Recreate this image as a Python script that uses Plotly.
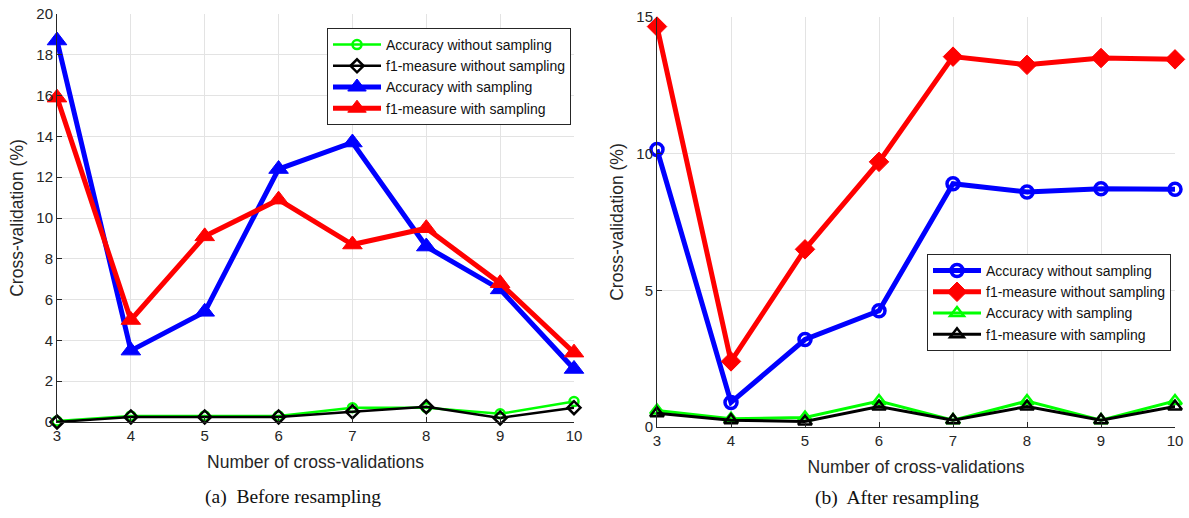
import plotly.graph_objects as go

folds = [3, 4, 5, 6, 7, 8, 9, 10]

# (a) Before resampling
a_acc_without = [0.05, 0.3, 0.3, 0.3, 0.7, 0.7, 0.4, 1.0]
a_f1_without = [0.0, 0.25, 0.25, 0.25, 0.5, 0.75, 0.2, 0.7]
a_acc_with = [18.7, 3.5, 5.4, 12.4, 13.7, 8.6, 6.5, 2.6]
a_f1_with = [15.9, 5.0, 9.1, 10.9, 8.7, 9.5, 6.8, 3.4]

# (b) After resampling
b_acc_without = [10.15, 0.9, 3.2, 4.25, 8.9, 8.6, 8.72, 8.7]
b_f1_without = [14.65, 2.4, 6.5, 9.7, 13.55, 13.25, 13.5, 13.45]
b_acc_with = [0.6, 0.3, 0.35, 0.95, 0.25, 0.95, 0.25, 0.95]
b_f1_with = [0.5, 0.25, 0.2, 0.75, 0.25, 0.75, 0.25, 0.75]

names = ["Accuracy without sampling", "f1-measure without sampling",
         "Accuracy with sampling", "f1-measure with sampling"]

W, H = 1189, 518
FONT = "Liberation Sans, Arial, sans-serif"
SERIF = "Liberation Serif, Times New Roman, serif"
TXT = "#262626"

fig = go.Figure()

def add(x, y, name, color, symbol, lw, ms, mlw, xa, ya, legend):
    fig.add_trace(go.Scatter(
        x=x, y=y, name=name, mode="lines+markers", xaxis=xa, yaxis=ya,
        legend=legend, cliponaxis=False,
        line=dict(color=color, width=lw),
        marker=dict(symbol=symbol, size=ms, color=color,
                    line=dict(color=color, width=mlw)),
    ))

# left panel
add(folds, a_acc_without, names[0], "#00ff00", "circle-open", 2.5, 9, 2.5, "x", "y", "legend")
add(folds, a_f1_without, names[1], "#000000", "diamond-open", 2.5, 10, 2.5, "x", "y", "legend")
add(folds, a_acc_with, names[2], "#0000ff", "triangle-up", 5, 17, 1, "x", "y", "legend")
add(folds, a_f1_with, names[3], "#ff0000", "triangle-up", 5, 17, 1, "x", "y", "legend")

# right panel
add(folds, b_acc_without, names[0], "#0000ff", "circle-open", 5, 12, 3.5, "x2", "y2", "legend2")
add(folds, b_f1_without, names[1], "#ff0000", "diamond", 5, 15, 1, "x2", "y2", "legend2")
add(folds, b_acc_with, names[2], "#00ff00", "triangle-up-open", 3, 12, 2.5, "x2", "y2", "legend2")
add(folds, b_f1_with, names[3], "#000000", "triangle-up-open", 3, 12, 2.5, "x2", "y2", "legend2")

def xd(px0, px1):
    return [px0 / W, px1 / W]

def yd(top, bottom):
    return [1 - bottom / H, 1 - top / H]

axis_common = dict(
    showgrid=True, gridcolor="#e3e3e3", gridwidth=1,
    showline=True, linecolor="#262626", linewidth=1, mirror=False,
    ticks="inside", ticklen=5, tickcolor="#262626",
    tickfont=dict(family=FONT, size=15, color=TXT),
    zeroline=False, automargin=False,
)
xtitle = dict(text="Number of cross-validations", font=dict(size=17.5, color=TXT), standoff=12)
ytitle = dict(text="Cross-validation (%)", font=dict(size=17.5, color=TXT), standoff=8)

legend_common = dict(xanchor="left", yanchor="top",
                     bgcolor="white", bordercolor="#262626", borderwidth=1,
                     font=dict(family=FONT, size=14, color="#111111"),
                     itemwidth=48, tracegroupgap=0)

fig.update_layout(
    width=W, height=H,
    margin=dict(l=0, r=0, t=0, b=0),
    paper_bgcolor="white", plot_bgcolor="white",
    font=dict(family=FONT, color=TXT),
    xaxis=dict(domain=xd(57, 574), range=[3, 10], tickvals=folds, anchor="y",
               title=xtitle, **axis_common),
    yaxis=dict(domain=yd(14, 422), range=[0, 20], dtick=2, anchor="x",
               title=ytitle, **axis_common),
    xaxis2=dict(domain=xd(657, 1175), range=[3, 10], tickvals=folds, anchor="y2",
                title=xtitle, **axis_common),
    yaxis2=dict(domain=yd(17, 427), range=[0, 15], dtick=5, anchor="x2",
                title=ytitle, **axis_common),
    legend=dict(x=327 / W, y=1 - 28 / H, **legend_common),
    legend2=dict(x=927 / W, y=1 - 254 / H, **legend_common),
    annotations=[
        dict(text="(a)  Before resampling", x=293 / W, y=1 - 497 / H, xref="paper", yref="paper",
             showarrow=False, xanchor="center", yanchor="middle",
             font=dict(family=SERIF, size=19.5, color="#111111")),
        dict(text="(b)  After resampling", x=897 / W, y=1 - 498 / H, xref="paper", yref="paper",
             showarrow=False, xanchor="center", yanchor="middle",
             font=dict(family=SERIF, size=19.5, color="#111111")),
    ],
)

fig.write_html("out.html", config={"displayModeBar": False},
               post_script="document.body.style.margin='0';")
